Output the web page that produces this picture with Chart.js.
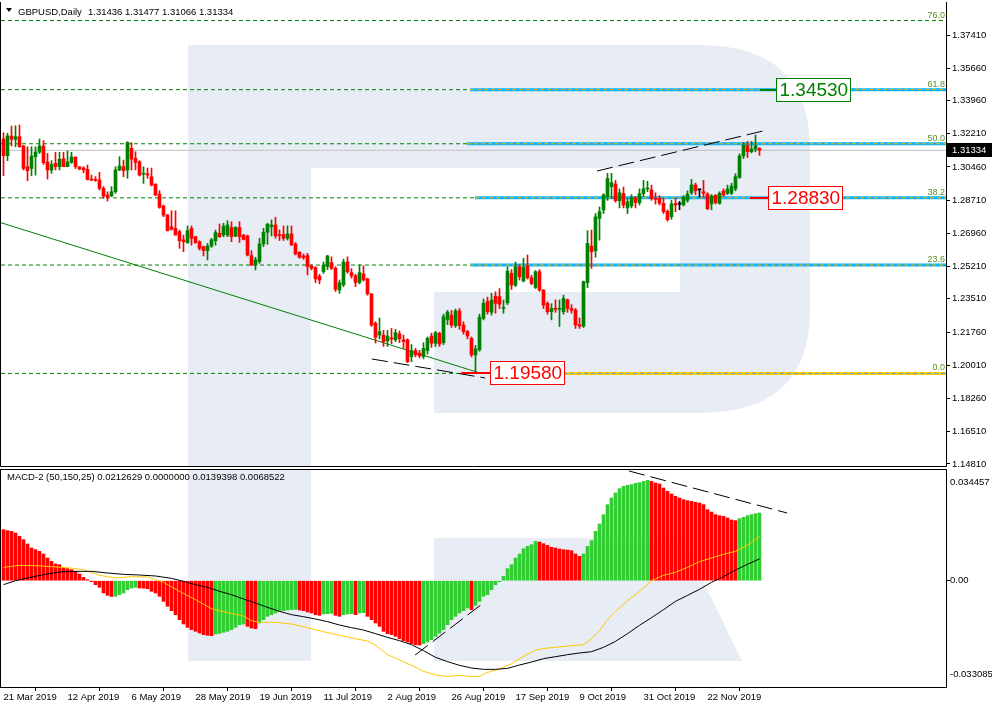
<!DOCTYPE html>
<html>
<head>
<meta charset="utf-8">
<title>GBPUSD Daily</title>
<script src="https://cdn.jsdelivr.net/npm/chart.js@4.4.1/dist/chart.umd.min.js"></script>
<style>
  html, body { margin: 0; padding: 0; background: #fff; }
  #wrap { position: relative; width: 992px; height: 708px; overflow: hidden; }
  #priceBox { position: absolute; left: 0; top: 0; width: 992px; height: 468px; }
  #macdBox { position: absolute; left: 0; top: 468px; width: 992px; height: 240px; }
</style>
</head>
<body>
<div id="wrap">
  <div id="priceBox"><canvas id="priceChart"></canvas></div>
  <div id="macdBox"><canvas id="macdChart"></canvas></div>
</div>
<script>
// ---- data ----
const dateLabels = ['21 Mar 2019', '12 Apr 2019', '6 May 2019', '28 May 2019', '19 Jun 2019', '11 Jul 2019',
  '2 Aug 2019', '26 Aug 2019', '17 Sep 2019', '9 Oct 2019', '31 Oct 2019', '22 Nov 2019'];
const dateIdx = [0, 16, 32, 48, 64, 80, 96, 112, 128, 144, 160, 176];

const priceTicks = [1.37410, 1.35660, 1.33960, 1.32210, 1.30460, 1.28710, 1.26960, 1.25210,
  1.23510, 1.21760, 1.20010, 1.18260, 1.16510, 1.14810];
const macdTicks = [0.034457, 0, -0.033085];

const opens = [
  1.3193,1.3105,1.3209,1.3191,1.3205,1.3156,1.3047,1.3038,1.3100,1.3124,
  1.3156,1.3072,1.3030,1.3065,1.3047,1.3089,1.3047,1.3070,1.3098,1.3047,
  1.3040,1.3033,1.2982,1.2980,1.2977,1.2933,1.2898,1.2893,1.2915,1.3030,
  1.3047,1.3030,1.3144,1.3091,1.3073,1.3008,1.3010,1.2994,1.2956,1.2903,
  1.2840,1.2792,1.2731,1.2722,1.2705,1.2662,1.2647,1.2722,1.2678,1.2652,
  1.2626,1.2605,1.2629,1.2657,1.2696,1.2687,1.2687,1.2727,1.2682,1.2727,
  1.2687,1.2682,1.2579,1.2530,1.2547,1.2640,1.2702,1.2731,1.2740,1.2689,
  1.2690,1.2670,1.2693,1.2640,1.2596,1.2577,1.2579,1.2524,1.2515,1.2470,
  1.2494,1.2521,1.2542,1.2512,1.2398,1.2425,1.2545,1.2489,1.2472,1.2437,
  1.2482,1.2456,1.2377,1.2222,1.2160,1.2160,1.2130,1.2145,1.2135,1.2166,
  1.2135,1.2135,1.2047,1.2078,1.2065,1.2047,1.2078,1.2155,1.2117,1.2169,
  1.2120,1.2240,1.2265,1.2210,1.2287,1.2213,1.2178,1.2143,1.2055,1.2082,
  1.2248,1.2337,1.2280,1.2365,1.2362,1.2300,1.2330,1.2485,1.2423,1.2520,
  1.2445,1.2524,1.2462,1.2411,1.2494,1.2397,1.2327,1.2283,1.2300,1.2296,
  1.2283,1.2345,1.2300,1.2292,1.2215,1.2207,1.2436,1.2629,1.2604,1.2775,
  1.2819,1.2889,1.2942,1.2956,1.2868,1.2906,1.2830,1.2840,1.2882,1.2858,
  1.2905,1.2930,1.2925,1.2880,1.2880,1.2854,1.2812,1.2784,1.2853,1.2850,
  1.2846,1.2870,1.2910,1.2951,1.2925,1.2916,1.2903,1.2851,1.2896,1.2854,
  1.2919,1.2907,1.2907,1.2930,1.2991,1.3104,1.3158,1.3126,1.3140,1.31436
];
const highs = [
  1.3226,1.3223,1.3261,1.3263,1.3267,1.3160,1.3152,1.3152,1.3152,1.3193,
  1.3184,1.3117,1.3079,1.3123,1.3123,1.3123,1.3130,1.3123,1.3098,1.3047,
  1.3047,1.3056,1.3003,1.2995,1.3017,1.2942,1.2915,1.2942,1.3047,1.3100,
  1.3082,1.3179,1.3174,1.3126,1.3079,1.3047,1.3040,1.3040,1.2956,1.2921,
  1.2845,1.2796,1.2815,1.2815,1.2713,1.2687,1.2735,1.2735,1.2682,1.2657,
  1.2629,1.2643,1.2670,1.2713,1.2745,1.2749,1.2763,1.2757,1.2731,1.2757,
  1.2690,1.2687,1.2605,1.2570,1.2670,1.2723,1.2749,1.2767,1.2781,1.2714,
  1.2735,1.2735,1.2735,1.2647,1.2600,1.2587,1.2591,1.2530,1.2521,1.2480,
  1.2545,1.2580,1.2572,1.2520,1.2450,1.2560,1.2572,1.2510,1.2480,1.2530,
  1.2525,1.2460,1.2380,1.2230,1.2250,1.2185,1.2185,1.2195,1.2190,1.2182,
  1.2160,1.2140,1.2110,1.2090,1.2080,1.2120,1.2150,1.2170,1.2180,1.2175,
  1.2270,1.2290,1.2290,1.2297,1.2300,1.2230,1.2185,1.2150,1.2105,1.2270,
  1.2350,1.2360,1.2380,1.2388,1.2405,1.2345,1.2520,1.2505,1.2545,1.2530,
  1.2565,1.2582,1.2475,1.2500,1.2505,1.2400,1.2335,1.2325,1.2345,1.2345,
  1.2370,1.2350,1.2320,1.2300,1.2250,1.2445,1.2710,1.2713,1.2800,1.2835,
  1.2905,1.3012,1.3012,1.2975,1.2930,1.2940,1.2880,1.2900,1.2890,1.2930,
  1.2975,1.2970,1.2950,1.2910,1.2895,1.2880,1.2820,1.2870,1.2880,1.2865,
  1.2895,1.2920,1.2980,1.2960,1.2930,1.2975,1.2910,1.2900,1.2900,1.2915,
  1.2930,1.2950,1.2960,1.3010,1.3115,1.3175,1.3180,1.3180,1.3214,1.31477
];
const lows = [
  1.3000,1.3079,1.3156,1.3152,1.3149,1.3030,1.2973,1.3000,1.3003,1.3117,
  1.3059,1.2982,1.3012,1.3030,1.3030,1.3047,1.3047,1.3065,1.3038,1.3030,
  1.3015,1.2977,1.2973,1.2970,1.2924,1.2880,1.2866,1.2889,1.2907,1.3026,
  1.2994,1.2986,1.3030,1.3030,1.2998,1.2959,1.2986,1.2945,1.2894,1.2828,
  1.2784,1.2708,1.2713,1.2687,1.2617,1.2599,1.2643,1.2634,1.2643,1.2608,
  1.2577,1.2556,1.2622,1.2634,1.2675,1.2678,1.2678,1.2652,1.2678,1.2648,
  1.2661,1.2577,1.2526,1.2503,1.2538,1.2626,1.2638,1.2682,1.2670,1.2658,
  1.2658,1.2661,1.2631,1.2582,1.2565,1.2559,1.2477,1.2503,1.2436,1.2430,
  1.2485,1.2505,1.2505,1.2390,1.2380,1.2415,1.2485,1.2460,1.2415,1.2430,
  1.2445,1.2370,1.2205,1.2118,1.2140,1.2100,1.2100,1.2115,1.2125,1.2120,
  1.2090,1.2015,1.2020,1.2045,1.2040,1.2035,1.2060,1.2095,1.2100,1.2100,
  1.2110,1.2215,1.2200,1.2200,1.2190,1.2165,1.2140,1.2045,1.1958,1.2075,
  1.2240,1.2270,1.2265,1.2275,1.2300,1.2275,1.2320,1.2400,1.2415,1.2450,
  1.2440,1.2455,1.2425,1.2405,1.2390,1.2300,1.2270,1.2240,1.2280,1.2205,
  1.2270,1.2280,1.2275,1.2195,1.2195,1.2200,1.2410,1.2511,1.2570,1.2660,
  1.2800,1.2870,1.2880,1.2860,1.2830,1.2830,1.2800,1.2830,1.2830,1.2845,
  1.2890,1.2915,1.2870,1.2850,1.2845,1.2800,1.2760,1.2770,1.2810,1.2820,
  1.2840,1.2860,1.2900,1.2900,1.2886,1.2886,1.2820,1.2820,1.2850,1.2850,
  1.2890,1.2900,1.2900,1.2920,1.2985,1.3090,1.3095,1.3120,1.3125,1.31066
];
const closes = [
  1.3105,1.3209,1.3191,1.3205,1.3153,1.3038,1.3026,1.3103,1.3124,1.3156,
  1.3068,1.3030,1.3059,1.3047,1.3086,1.3047,1.3072,1.3098,1.3047,1.3035,
  1.3030,1.2980,1.2977,1.2975,1.2933,1.2893,1.2886,1.2915,1.3030,1.3051,
  1.3026,1.3174,1.3087,1.3070,1.3003,1.3010,1.3003,1.2950,1.2898,1.2833,
  1.2792,1.2710,1.2717,1.2687,1.2657,1.2652,1.2710,1.2670,1.2647,1.2617,
  1.2605,1.2629,1.2662,1.2700,1.2678,1.2734,1.2740,1.2678,1.2727,1.2678,
  1.2664,1.2582,1.2530,1.2556,1.2640,1.2702,1.2744,1.2740,1.2682,1.2684,
  1.2670,1.2693,1.2635,1.2587,1.2570,1.2568,1.2521,1.2512,1.2456,1.2450,
  1.2529,1.2577,1.2512,1.2401,1.2436,1.2545,1.2494,1.2472,1.2437,1.2489,
  1.2450,1.2377,1.2213,1.2148,1.2178,1.2125,1.2155,1.2139,1.2173,1.2141,
  1.2126,1.2020,1.2078,1.2056,1.2051,1.2090,1.2143,1.2117,1.2172,1.2113,
  1.2257,1.2281,1.2212,1.2287,1.2210,1.2178,1.2155,1.2055,1.2087,1.2254,
  1.2328,1.2283,1.2344,1.2327,1.2323,1.2303,1.2497,1.2423,1.2520,1.2467,
  1.2517,1.2462,1.2432,1.2494,1.2397,1.2318,1.2283,1.2300,1.2296,1.2300,
  1.2353,1.2300,1.2290,1.2213,1.2207,1.2441,1.2643,1.2599,1.2783,1.2810,
  1.2898,1.2985,1.2963,1.2868,1.2910,1.2845,1.2862,1.2885,1.2858,1.2905,
  1.2930,1.2935,1.2880,1.2875,1.2855,1.2810,1.2768,1.2851,1.2845,1.2850,
  1.2886,1.2903,1.2951,1.2921,1.2925,1.2907,1.2826,1.2893,1.2858,1.2907,
  1.2898,1.2930,1.2945,1.2995,1.3104,1.3161,1.3126,1.3140,1.3158,1.31334
];

// Fibonacci grid
const fibNames = ['0.0', '23.6', '38.2', '50.0', '61.8', '76.0'];
const fibLevels = [1.19580, 1.25290, 1.28830, 1.31680, 1.34530, 1.38170];
const tagLevels = [1.34530, 1.28830, 1.19580];
const tagTexts = ['1.34530', '1.28830', '1.19580'];

// hand drawn lines (bar index, value)
const trendIdx = [-0.625, 118.65], trendVal = [1.2752, 1.1963];
const lowDivIdx = [92.1, 120.4], lowDivVal = [1.2034, 1.1934];
const highDivIdx = [148.4, 190.9], highDivVal = [1.30245, 1.32405];
const macdHighDivIdx = [156.4, 195.9], macdHighDivVal = [0.03445, 0.02126];
const macdLowDivIdx = [102.9, 119.65], macdLowDivVal = [-0.02334, -0.00732];

// MACD-2 (50,150,25)
const macdHist = [
  0.01603,0.01571,0.01550,0.01498,0.01393,0.01288,0.01153,0.01027,0.00975,0.00922,
  0.00839,0.00713,0.00608,0.00524,0.00503,0.00420,0.00378,0.00347,0.00294,0.00210,
  0.00106,0.00032,-0.00030,-0.00125,-0.00208,-0.00386,-0.00460,-0.00495,-0.00488,-0.00439,
  -0.00386,-0.00282,-0.00229,-0.00208,-0.00229,-0.00235,-0.00250,-0.00334,-0.00386,-0.00491,
  -0.00648,-0.00805,-0.00941,-0.01067,-0.01224,-0.01360,-0.01465,-0.01538,-0.01590,-0.01643,
  -0.01695,-0.01716,-0.01727,-0.01674,-0.01653,-0.01622,-0.01590,-0.01538,-0.01465,-0.01381,
  -0.01360,-0.01433,-0.01486,-0.01507,-0.01329,-0.01224,-0.01119,-0.01067,-0.01014,-0.00962,
  -0.00941,-0.00920,-0.00910,-0.00899,-0.00920,-0.00941,-0.00983,-0.01014,-0.01067,-0.01088,
  -0.01046,-0.01035,-0.01025,-0.01088,-0.01119,-0.01067,-0.01046,-0.01035,-0.01067,-0.01014,
  -0.01004,-0.01119,-0.01224,-0.01329,-0.01433,-0.01590,-0.01664,-0.01695,-0.01748,-0.01821,
  -0.01884,-0.01926,-0.01978,-0.02009,-0.02020,-0.01978,-0.01926,-0.01852,-0.01748,-0.01643,
  -0.01538,-0.01381,-0.01224,-0.01119,-0.01014,-0.00941,-0.00857,-0.00910,-0.00774,-0.00648,
  -0.00491,-0.00439,-0.00282,-0.00125,-0.00030,0.00137,0.00378,0.00503,0.00713,0.00839,
  0.01006,0.01079,0.01131,0.01236,0.01215,0.01163,0.01110,0.01048,0.01027,0.00995,
  0.00975,0.00964,0.00943,0.00839,0.00765,0.00839,0.01079,0.01257,0.01550,0.01781,
  0.02074,0.02388,0.02598,0.02755,0.02891,0.02964,0.02995,0.03016,0.03058,0.03079,
  0.03121,0.03152,0.03121,0.03068,0.03037,0.02911,0.02806,0.02723,0.02649,0.02597,
  0.02545,0.02513,0.02492,0.02461,0.02440,0.02388,0.02230,0.02157,0.02074,0.02042,
  0.02021,0.01969,0.01906,0.01885,0.01948,0.01990,0.02042,0.02074,0.02105,0.02126
];
const signalIdx = [0,4,8,12,16,20,24,28,32,36,40,44,48,52,56,60,62,64,68,72,76,80,84,88,91,93,95,
  96,99,102,105,108,111,114,117,119,121,124,127,130,133,136,139,142,145,147,149,151,153,156,159,
  162,165,168,171,174,177,180,183,186,189];
const signalVal = [0.00420,0.00483,0.00472,0.00441,0.00409,0.00347,0.00169,0.00085,0.00127,0.00116,
  -0.00051,-0.00334,-0.00596,-0.00878,-0.01004,-0.01109,-0.01255,-0.01308,-0.01308,-0.01360,-0.01475,
  -0.01601,-0.01716,-0.01821,-0.01894,-0.02030,-0.02219,-0.02323,-0.02491,-0.02658,-0.02847,-0.02962,
  -0.03004,-0.02973,-0.03014,-0.03004,-0.02878,-0.02774,-0.02606,-0.02376,-0.02177,-0.02114,-0.02082,
  -0.02040,-0.02009,-0.01821,-0.01570,-0.01224,-0.00963,-0.00628,-0.00334,0.00000,0.00169,0.00263,
  0.00420,0.00598,0.00713,0.00828,0.00922,0.01111,0.01394];
const mainIdx = [0,3,6,10,14,18,22,26,30,34,38,42,45,48,51,54,57,60,63,66,69,72,75,78,81,84,87,90,93,
  96,99,102,105,108,111,114,117,120,123,126,129,132,135,138,141,144,147,150,153,156,159,162,165,168,
  171,174,177,180,183,186,189];
const mainVal = [-0.00125,0.00001,0.00085,0.00190,0.00273,0.00294,0.00294,0.00242,0.00200,0.00179,
  0.00148,0.00074,-0.00020,-0.00125,-0.00208,-0.00334,-0.00439,-0.00575,-0.00701,-0.00837,-0.00963,
  -0.01067,-0.01130,-0.01203,-0.01287,-0.01392,-0.01475,-0.01549,-0.01664,-0.01779,-0.01884,-0.02009,
  -0.02198,-0.02407,-0.02543,-0.02658,-0.02742,-0.02784,-0.02784,-0.02753,-0.02648,-0.02554,-0.02449,
  -0.02386,-0.02323,-0.02271,-0.02229,-0.02093,-0.01905,-0.01664,-0.01402,-0.01161,-0.00910,-0.00648,
  -0.00460,-0.00271,-0.00051,0.00127,0.00336,0.00514,0.00685];

// ---- look ----
const FAMILY = '"Liberation Sans", Arial, sans-serif';
const idxMin = -0.625, idxMax = 235.625;
const priceMin = 1.147019, priceMax = 1.391487;
const macdMin = -0.033385, macdMax = 0.034768;
const UP = '#008000', DOWN = '#ff0000', FLAT = '#000000';
const bandFrom = [null, 116.65, 117.9, 115.9, 116.65, null]; // start of the blue level bands
const goldFrom = 139.9;
const tagStyle = [
  { color: '#008000', boxIdx: 193.1, leadIdx: 189.1 },
  { color: '#ff0000', boxIdx: 191.1, leadIdx: 186.6 },
  { color: '#ff0000', boxIdx: 121.6, leadIdx: 114.4 }
];

function drawLogo(ctx, dy) {
  ctx.save();
  ctx.translate(0, dy);
  ctx.fillStyle = '#e8ecf4';
  ctx.beginPath();
  ctx.moveTo(188, 45); ctx.lineTo(700, 45);
  ctx.quadraticCurveTo(810, 45, 810, 150);
  ctx.lineTo(810, 310);
  ctx.quadraticCurveTo(810, 413, 700, 413);
  ctx.lineTo(434, 413); ctx.lineTo(434, 292); ctx.lineTo(680, 292); ctx.lineTo(680, 168);
  ctx.lineTo(311, 168); ctx.lineTo(311, 661); ctx.lineTo(188, 661);
  ctx.closePath(); ctx.fill();
  ctx.beginPath();
  ctx.moveTo(434, 538); ctx.lineTo(682, 538); ctx.lineTo(742, 661); ctx.lineTo(434, 661);
  ctx.closePath(); ctx.fill();
  ctx.restore();
}

function clipArea(ctx, a) {
  ctx.beginPath();
  ctx.rect(a.left, a.top, a.right - a.left, a.bottom - a.top);
  ctx.clip();
}

// axis label overflow must not shrink the plot
function noPad(s) {
  s.paddingTop = 0; s.paddingBottom = 0; s.paddingLeft = 0; s.paddingRight = 0;
}

function seg(xs, ys, color, width, dash, order) {
  return {
    type: 'line', data: xs.map((x, k) => ({ x: x, y: ys[k] })),
    borderColor: color, borderWidth: width, borderDash: dash || [],
    pointRadius: 0, tension: 0, order: order
  };
}

const candleColors = closes.map((c, i) => c > opens[i] ? UP : (c < opens[i] ? DOWN : FLAT));

const priceSets = [];
fibLevels.forEach(v => priceSets.push(seg([idxMin, idxMax], [v, v], '#008000', 1, [4, 3], 30)));
fibLevels.forEach((v, k) => {
  if (bandFrom[k] === null) return;
  priceSets.push(seg([bandFrom[k], idxMax], [v, v], '#00b4ff', 3, [], 25));
  priceSets.push(seg([bandFrom[k], idxMax], [v, v], '#ffb400', 1, [4, 3], 24));
});
priceSets.push(seg([goldFrom, idxMax], [fibLevels[0], fibLevels[0]], '#ffc800', 3, [], 25));
priceSets.push(seg([goldFrom, idxMax], [fibLevels[0], fibLevels[0]], '#4aa8e0', 1, [4, 3], 24));
priceSets.push(seg([idxMin, idxMax], [closes[closes.length - 1], closes[closes.length - 1]], '#c0c0c0', 1, [], 20));
priceSets.push(seg(trendIdx, trendVal, '#008000', 1, [], 10));
priceSets.push(seg(lowDivIdx, lowDivVal, '#000000', 1, [16, 6], 10));
priceSets.push(seg(highDivIdx, highDivVal, '#000000', 1, [16, 6], 10));
priceSets.push({
  type: 'bar', data: lows.map((l, i) => ({ x: i, y: [l, highs[i]] })),
  backgroundColor: candleColors, barThickness: 1, grouped: false, borderWidth: 0, order: 2
});
priceSets.push({
  type: 'bar', data: opens.map((o, i) => ({ x: i, y: [o, closes[i]] })),
  backgroundColor: candleColors, barThickness: 3, minBarLength: 1, grouped: false, borderWidth: 0, order: 1
});

const priceDecor = {
  id: 'priceDecor',
  beforeDatasetsDraw(chart) {
    const ctx = chart.ctx;
    ctx.save(); clipArea(ctx, chart.chartArea); drawLogo(ctx, 0); ctx.restore();
  },
  afterDatasetsDraw(chart) {
    const { ctx, chartArea: a, scales: { x, y } } = chart;
    ctx.save();
    // level names
    ctx.font = '9px ' + FAMILY;
    ctx.textAlign = 'right'; ctx.textBaseline = 'alphabetic';
    ctx.fillStyle = '#5b8f22';
    fibNames.forEach((n, k) => ctx.fillText(n, a.right - 1, Math.round(y.getPixelForValue(fibLevels[k])) - 3));
    // price tags
    ctx.font = '19px ' + FAMILY;
    ctx.textAlign = 'left'; ctx.textBaseline = 'middle';
    tagLevels.forEach((v, k) => {
      const st = tagStyle[k];
      const py = Math.round(y.getPixelForValue(v));
      const bx = Math.round(x.getPixelForValue(st.boxIdx)) + 0.5;
      const lx = x.getPixelForValue(st.leadIdx);
      ctx.strokeStyle = st.color; ctx.lineWidth = 2;
      ctx.beginPath(); ctx.moveTo(lx, py); ctx.lineTo(bx, py); ctx.stroke();
      const w = Math.ceil(ctx.measureText(tagTexts[k]).width) + 5;
      ctx.fillStyle = '#ffffff';
      ctx.fillRect(bx, py - 12, w, 24);
      ctx.lineWidth = 1;
      ctx.strokeRect(bx, py - 11.5, w, 23);
      ctx.fillStyle = st.color;
      ctx.fillText(tagTexts[k], bx + 3, py + 1);
    });
    // header
    ctx.fillStyle = '#000';
    ctx.beginPath(); ctx.moveTo(6, 8); ctx.lineTo(12, 8); ctx.lineTo(9, 12); ctx.closePath(); ctx.fill();
    ctx.font = '9.5px ' + FAMILY; ctx.textBaseline = 'alphabetic';
    ctx.fillText('GBPUSD,Daily', 18, 15);
    const last = closes.length - 1;
    ctx.fillText([opens[last], highs[last], lows[last], closes[last]].map(v => v.toFixed(5)).join(' '), 88, 15);
    // frame: left, bottom and right edges
    ctx.strokeStyle = '#000'; ctx.lineWidth = 1;
    ctx.beginPath();
    ctx.moveTo(a.left - 0.5, a.top); ctx.lineTo(a.left - 0.5, a.bottom + 0.5);
    ctx.lineTo(a.right + 0.5, a.bottom + 0.5); ctx.lineTo(a.right + 0.5, a.top);
    ctx.stroke();
    // last price marker on the axis
    const cy = Math.round(y.getPixelForValue(closes[last]));
    ctx.fillStyle = '#000';
    ctx.fillRect(a.right + 1, cy - 7, 46, 14);
    ctx.fillStyle = '#fff'; ctx.textBaseline = 'middle';
    ctx.fillText(closes[last].toFixed(5), a.right + 6, cy + 0.5);
    ctx.restore();
  }
};

new Chart(document.getElementById('priceChart'), {
  type: 'bar',
  data: { datasets: priceSets },
  options: {
    responsive: true, maintainAspectRatio: false, animation: false, devicePixelRatio: 1, events: [],
    layout: { padding: { left: 1, top: 2, right: 0, bottom: 2 } },
    plugins: { legend: { display: false }, tooltip: { enabled: false } },
    scales: {
      x: { type: 'linear', display: false, min: idxMin, max: idxMax, offset: false },
      y: {
        type: 'linear', position: 'right', min: priceMin, max: priceMax,
        afterFit: s => { s.width = 46; noPad(s); },
        afterBuildTicks: s => { s.ticks = priceTicks.map(v => ({ value: v })); },
        ticks: { callback: v => v.toFixed(5), font: { family: FAMILY, size: 9.5 }, color: '#000', padding: 2 },
        grid: { drawOnChartArea: false, drawTicks: true, tickLength: 4, color: '#000' },
        border: { display: false }
      }
    }
  },
  plugins: [priceDecor]
});

// ---- MACD panel ----
const histColors = macdHist.map((v, i) => (i > 0 && v > macdHist[i - 1]) ? '#32cd32' : '#ff0000');

const macdSets = [
  {
    type: 'bar', data: macdHist.map((v, i) => ({ x: i, y: v })),
    backgroundColor: histColors, barThickness: 3, grouped: false, borderWidth: 0, order: 10
  },
  seg(signalIdx, signalVal, '#ffc800', 1, [], 5),
  seg(mainIdx, mainVal, '#000000', 1, [], 4),
  seg(macdHighDivIdx, macdHighDivVal, '#000000', 1, [16, 6], 1),
  seg(macdLowDivIdx, macdLowDivVal, '#000000', 1, [16, 6], 1)
];

const macdDecor = {
  id: 'macdDecor',
  beforeDatasetsDraw(chart) {
    const ctx = chart.ctx;
    ctx.save(); clipArea(ctx, chart.chartArea); drawLogo(ctx, -468); ctx.restore();
  },
  afterDatasetsDraw(chart) {
    const { ctx, chartArea: a } = chart;
    ctx.save();
    ctx.fillStyle = '#000';
    ctx.font = '9.5px ' + FAMILY; ctx.textAlign = 'left'; ctx.textBaseline = 'alphabetic';
    ctx.fillText('MACD-2 (50,150,25) 0.0212629 0.0000000 0.0139398 0.0068522', 7, 12);
    ctx.strokeStyle = '#000'; ctx.lineWidth = 1;
    ctx.strokeRect(a.left - 0.5, a.top - 0.5, a.right - a.left + 1, a.bottom - a.top + 1);
    ctx.restore();
  }
};

new Chart(document.getElementById('macdChart'), {
  type: 'bar',
  data: { datasets: macdSets },
  options: {
    responsive: true, maintainAspectRatio: false, animation: false, devicePixelRatio: 1, events: [],
    layout: { padding: { left: 1, top: 2, right: 0, bottom: 0 } },
    plugins: { legend: { display: false }, tooltip: { enabled: false } },
    scales: {
      x: {
        type: 'linear', min: idxMin, max: idxMax, offset: false,
        afterFit: s => { s.height = 21; noPad(s); },
        afterBuildTicks: s => { s.ticks = dateIdx.map(v => ({ value: v })); },
        ticks: {
          callback: (v, k) => dateLabels[k], align: 'start', autoSkip: false, maxRotation: 0, minRotation: 0,
          font: { family: FAMILY, size: 9.5 }, color: '#000', padding: 1
        },
        grid: { drawOnChartArea: false, drawTicks: true, tickLength: 4, color: '#000' },
        border: { display: false }
      },
      y: {
        type: 'linear', position: 'right', min: macdMin, max: macdMax,
        afterFit: s => { s.width = 46; noPad(s); },
        afterBuildTicks: s => { s.ticks = macdTicks.map(v => ({ value: v })); },
        ticks: {
          callback: v => v > 0 ? ['', '', v.toFixed(6)] : (v < 0 ? [v.toFixed(6), '', ''] : '0.00'),
          font: { family: FAMILY, size: 9.5 }, color: '#000', padding: 0
        },
        grid: {
          drawOnChartArea: false, drawTicks: true, tickLength: 4,
          color: c => (c.tick && c.tick.value === 0) ? '#000' : 'rgba(0,0,0,0)'
        },
        border: { display: false }
      }
    }
  },
  plugins: [macdDecor]
});
</script>
</body>
</html>
